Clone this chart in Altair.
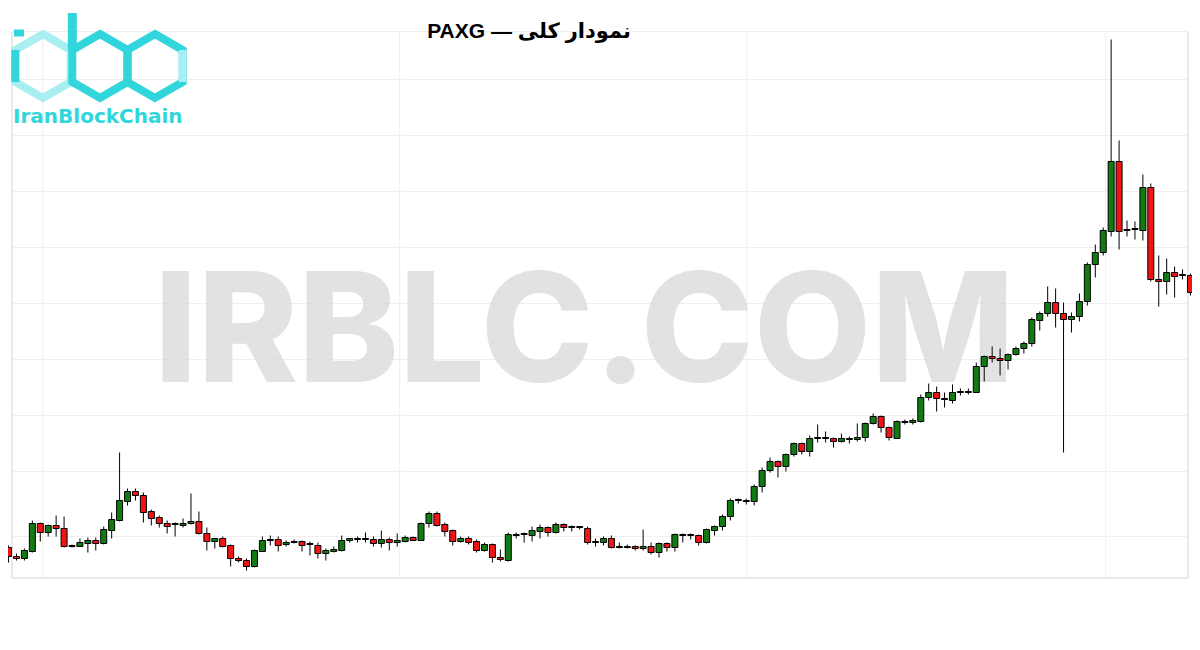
import altair as alt
import pandas as pd

# OHLC values (arbitrary price units, higher = higher price)
open_ = [52, 43, 41, 48, 76, 67, 74, 71, 53, 53, 56, 59, 56, 69, 79, 98, 108, 104, 88, 82,
         76, 75, 74, 76, 78, 66, 58, 61, 54, 41, 39, 33, 48, 59, 60, 55, 57, 58, 55, 54,
         46, 48, 49, 59, 60, 60, 60, 56, 60, 57, 58, 62, 59, 76, 86, 75, 69, 58, 61, 58,
         49, 55, 42, 39, 64, 65, 64, 68, 72, 67, 75, 72, 72, 71, 57, 57, 61, 52, 52, 53,
         51, 53, 47, 56, 52, 64, 64, 64, 57, 69, 73, 83, 99, 98, 98, 113, 129, 138, 133, 145,
         156, 148, 161, 161, 161, 158, 160, 160, 162, 176, 183, 172, 161, 177, 177, 178, 202, 207, 200, 199,
         207, 207, 207, 233, 243, 241, 239, 245, 251, 256, 279, 286, 297, 286, 280, 283, 298, 335, 347, 368,
         438, 369, 370, 369, 412, 320, 318, 327, 324, 324]
high = [54, 46, 51, 79, 77, 75, 84, 83, 55, 61, 62, 62, 73, 87, 147, 111, 111, 107, 90, 84,
        79, 77, 81, 106, 88, 72, 61, 63, 55, 43, 41, 50, 63, 64, 63, 59, 60, 59, 58, 57,
        51, 53, 64, 61, 63, 67, 63, 69, 62, 66, 64, 63, 77, 88, 88, 77, 70, 63, 63, 60,
        57, 56, 50, 67, 67, 67, 73, 75, 73, 77, 76, 74, 73, 73, 61, 63, 64, 57, 55, 54,
        70, 57, 57, 57, 66, 66, 66, 65, 71, 74, 85, 101, 101, 101, 115, 132, 142, 139, 146, 157,
        157, 164, 175, 168, 162, 166, 163, 176, 177, 186, 184, 173, 179, 180, 181, 205, 216, 213, 207, 215,
        211, 211, 237, 244, 253, 251, 246, 253, 258, 282, 288, 313, 311, 297, 287, 306, 337, 355, 372, 560,
        459, 379, 378, 425, 416, 344, 341, 333, 330, 326]
low = [37, 39, 39, 47, 58, 63, 63, 52, 52, 53, 47, 49, 55, 61, 78, 94, 99, 77, 74, 72,
       66, 63, 72, 75, 65, 49, 51, 52, 33, 37, 29, 32, 48, 54, 48, 53, 56, 48, 44, 41,
       39, 47, 48, 57, 57, 57, 53, 52, 49, 53, 57, 59, 59, 72, 73, 63, 54, 57, 55, 47,
       48, 37, 38, 38, 61, 57, 58, 61, 63, 66, 68, 68, 70, 55, 53, 54, 51, 51, 51, 49,
       49, 45, 42, 48, 48, 57, 60, 54, 56, 64, 69, 79, 96, 95, 94, 107, 127, 122, 128, 143,
       145, 143, 157, 157, 152, 157, 156, 158, 158, 175, 167, 159, 161, 175, 175, 177, 199, 188, 192, 196,
       204, 205, 207, 218, 237, 224, 230, 244, 246, 253, 269, 283, 272, 147, 267, 278, 294, 322, 344, 363,
       350, 363, 360, 359, 318, 293, 305, 302, 320, 304]
close = [43, 41, 49, 76, 67, 74, 71, 53, 54, 57, 59, 56, 70, 80, 99, 108, 104, 87, 81, 76,
         73, 76, 76, 78, 66, 58, 61, 53, 41, 39, 33, 49, 59, 60, 54, 57, 58, 54, 56, 46,
         49, 50, 59, 61, 61, 61, 56, 60, 57, 59, 62, 59, 76, 86, 74, 68, 58, 61, 57, 49,
         55, 42, 40, 65, 65, 66, 69, 72, 67, 75, 72, 73, 73, 57, 58, 61, 52, 53, 53, 51,
         53, 47, 56, 52, 65, 65, 65, 57, 70, 73, 83, 99, 100, 99, 113, 129, 138, 133, 145, 156,
         148, 161, 162, 162, 158, 161, 161, 162, 176, 183, 172, 162, 178, 178, 179, 202, 207, 201, 201, 207,
         208, 208, 233, 243, 241, 239, 245, 251, 256, 280, 286, 297, 286, 280, 283, 298, 335, 347, 369, 438,
         368, 370, 371, 412, 320, 318, 327, 323, 325, 307]

grid_y = [568, 520, 464, 408, 352, 296, 240, 184, 128, 63]
grid_x = [4.3125, 49.3125, 93.0625, 138.3125]

GREEN = "#127a12"
RED = "#f01414"
CYAN = "#31d6dc"
CYAN_LIGHT = "#a9eef0"
GRID = "#efefef"
HEX = "M0,-1L0.866,-0.5L0.866,0.5L0,1L-0.866,0.5L-0.866,-0.5Z"

df = pd.DataFrame({"i": list(range(len(open_))), "open": open_, "high": high,
                   "low": low, "close": close})
df["dir"] = ["up" if c >= o else "down" for o, c in zip(open_, close)]

W, H = 1184, 634
xs = alt.Scale(domain=[0.5625, 148.5625], nice=False, zero=False)
ys = alt.Scale(domain=[-42.5, 591.5], nice=False, zero=False)
no_axis = None

one = pd.DataFrame({"t": ["x"]})

def rule(x, y, x2=None, y2=None, color="#e9e9e9", w=2):
    enc = dict(x=alt.value(x), y=alt.value(y))
    if x2 is not None:
        enc["x2"] = alt.value(x2)
    if y2 is not None:
        enc["y2"] = alt.value(y2)
    return alt.Chart(one).mark_rule(color=color, strokeWidth=w).encode(**enc)

hgrid = alt.Chart(pd.DataFrame({"g": grid_y})).mark_rule(color=GRID, strokeWidth=1).encode(
    y=alt.Y("g:Q", scale=ys, axis=no_axis), x=alt.value(4), x2=alt.value(1180)
)
vgrid = alt.Chart(pd.DataFrame({"g": grid_x})).mark_rule(color=GRID, strokeWidth=1).encode(
    x=alt.X("g:Q", scale=xs, axis=no_axis), y=alt.value(24), y2=alt.value(570)
)

frame = [
    rule(4, 24, y2=570),
    rule(4, 570, x2=1180),
    rule(1180, 24, y2=570),
]

watermark = alt.Chart(pd.DataFrame({"t": ["IRBLC.COM"]})).mark_text(
    font="Inter", fontWeight=800, fontSize=152, color="#d9d9d9", opacity=0.75,
    align="left", baseline="alphabetic"
).encode(text="t:N", x=alt.value(146), y=alt.value(374))

def hexagon(cx, cy, color):
    return alt.Chart(one).mark_point(
        shape=HEX, size=4096, filled=False, strokeWidth=8, color=color, opacity=1
    ).encode(x=alt.value(cx), y=alt.value(cy))

logo = [
    hexagon(35, 58, CYAN_LIGHT),
    hexagon(92, 58, CYAN),
    hexagon(147, 58, CYAN),
    rule(7.3, 42, y2=74, color=CYAN, w=8),
    rule(174.7, 42, y2=74, color=CYAN_LIGHT, w=8),
    rule(64.3, 5, y2=42, color=CYAN, w=9),
    rule(6, 25, x2=16, color=CYAN, w=7),
    alt.Chart(pd.DataFrame({"t": ["IranBlockChain"]})).mark_text(
        font="DejaVu Sans", fontWeight="bold", fontSize=20, color=CYAN,
        align="left", baseline="alphabetic"
    ).encode(text="t:N", x=alt.value(5), y=alt.value(115)),
]

wicks = alt.Chart(df).mark_rule(color="black", strokeWidth=1).encode(
    x=alt.X("i:Q", scale=xs, axis=no_axis), y=alt.Y("low:Q", scale=ys, axis=no_axis),
    y2="high:Q"
)
bodies = alt.Chart(df).mark_bar(size=6, stroke="black", strokeWidth=1).encode(
    x=alt.X("i:Q", scale=xs, axis=no_axis),
    y=alt.Y("open:Q", scale=ys, axis=no_axis),
    y2="close:Q",
    color=alt.Color("dir:N", scale=alt.Scale(domain=["up", "down"], range=[GREEN, RED]),
                    legend=None),
)

title = alt.Chart(pd.DataFrame({"t": ["PAXG — نمودار کلی"]})).mark_text(
    font="Liberation Sans, DejaVu Sans", fontWeight="bold", fontSize=21, color="black",
    align="center", baseline="alphabetic"
).encode(text="t:N", x=alt.value(521), y=alt.value(30))

chart = alt.layer(hgrid, vgrid, *frame, watermark, *logo, wicks, bodies, title).properties(
    width=W, height=H, padding=0, autosize=alt.AutoSizeParams(type="none"),
    background="white",
).configure_view(stroke=None)

chart.save("out.html", embed_options={"renderer": "svg", "actions": False})
